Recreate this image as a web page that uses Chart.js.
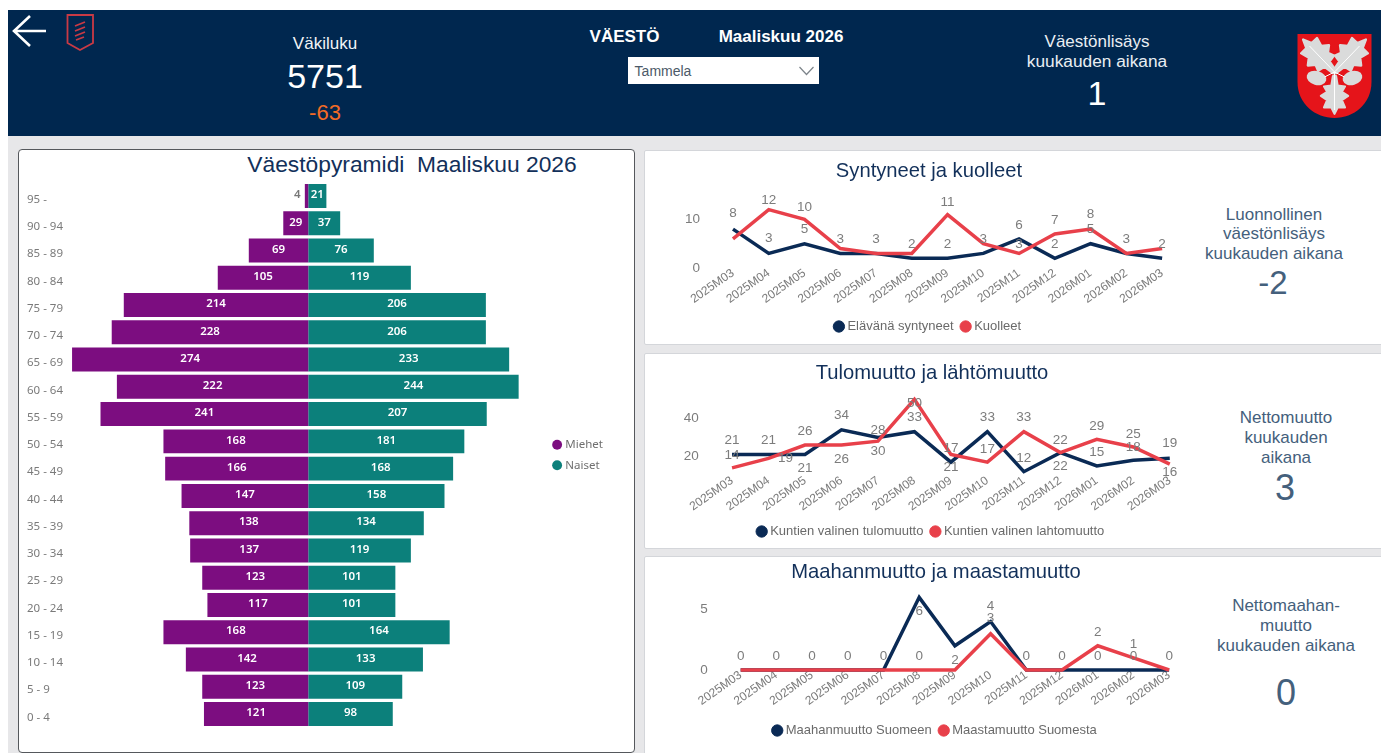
<!DOCTYPE html>
<html lang="fi"><head><meta charset="utf-8"><title>Väestö</title>
<script src="https://cdn.jsdelivr.net/npm/chart.js@4"></script>
<style>
html,body{margin:0;padding:0;background:#fff;overflow:hidden}
#page{position:relative;width:1381px;height:753px;font-family:"Liberation Sans",Arial,sans-serif;overflow:hidden;background:#fff}
#page div,#page canvas,#page svg{position:absolute}
.t{white-space:nowrap;transform:translate(-50%,-50%);line-height:1}
.side{color:#44607c}
.card{background:#fff;box-sizing:border-box;border:1px solid #d4d6da;border-radius:2px}
</style></head><body>
<div id="page">
<div style="left:8px;top:136px;width:1373px;height:617px;background:#e7e7e9"></div>
<div style="left:8px;top:10px;width:1373px;height:126px;background:#00274f"></div>

<svg style="left:8px;top:10px" width="100" height="50" viewBox="8 10 100 50">
<path d="M46 31H14M30 16L14 31L30 46" fill="none" stroke="#fff" stroke-width="2.6"/>
<path d="M67.500 15H93V43L80 50L67.500 43Z" fill="none" stroke="#c93a45" stroke-width="1.8"/>
<path d="M75 26L85 22M75 31L85 27M75 36L85 32M76 40L84 37" fill="none" stroke="#c93a45" stroke-width="1.8"/>
</svg>

<div class="t" style="left:325px;top:43px;font-size:17px;color:#f2f4f6">Väkiluku</div>
<div class="t" style="left:325px;top:76px;font-size:34px;color:#fff">5751</div>
<div class="t" style="left:325px;top:113px;font-size:22px;color:#f26b26">-63</div>
<div class="t" style="left:624.500px;top:36px;font-size:17px;font-weight:bold;color:#fff">VÄESTÖ</div>
<div class="t" style="left:781px;top:36px;font-size:17px;font-weight:bold;color:#fff">Maaliskuu 2026</div>
<div style="left:628px;top:57px;width:191px;height:27px;background:#fff"></div>
<div class="t" style="left:663px;top:71px;font-size:14px;color:#4c5a68">Tammela</div>
<svg style="left:798px;top:65px" width="18" height="12"><path d="M1.500 2L8.500 9.500L15.500 2" fill="none" stroke="#7d848a" stroke-width="1.2"/></svg>
<div class="t" style="left:1097px;top:41px;font-size:17px;color:#e9eef3">Väestönlisäys</div>
<div class="t" style="left:1097px;top:62px;font-size:17.300px;color:#e9eef3">kuukauden aikana</div>
<div class="t" style="left:1097px;top:93px;font-size:34px;color:#fff">1</div>

<svg style="left:1297px;top:34px" width="75" height="84" viewBox="0 0 74 84">
<path d="M0 0H74V48C74 70 56 84 37 84C18 84 0 70 0 48Z" fill="#e5141a"/>
<g fill="#dadbdb" stroke="#dadbdb" stroke-width="2" stroke-linejoin="round">
<g transform="translate(37 38) rotate(-44) scale(1.220)">
<path d="M-1.500 0L-3 -9L-9 -10L-7 -15L-12 -19L-7 -23L-9 -30L-3 -30L0 -37L3 -30L9 -30L7 -23L12 -19L7 -15L9 -10L3 -9L1.500 0Z"/>
</g>
<g transform="translate(37 38) rotate(44) scale(1.220)">
<path d="M-1.500 0L-3 -9L-9 -10L-7 -15L-12 -19L-7 -23L-9 -30L-3 -30L0 -37L3 -30L9 -30L7 -23L12 -19L7 -15L9 -10L3 -9L1.500 0Z"/>
</g>
<g transform="translate(37 42) rotate(180) scale(1.050)">
<path d="M-1.500 0L-3 -9L-10 -10L-7 -15L-13 -19L-7 -23L-10 -30L-3 -30L0 -36L3 -30L10 -30L7 -23L13 -19L7 -15L10 -10L3 -9L1.500 0Z"/>
</g>
<ellipse cx="19" cy="44" rx="9" ry="6" transform="rotate(15 19 44)"/>
<ellipse cx="55" cy="44" rx="9" ry="6" transform="rotate(-15 55 44)"/>
</g>
<path d="M37 38L12 12M37 38L62 12M37 38V76M37 38L27 43M37 38L47 43" stroke="#fff" stroke-width="1" fill="none"/>
</svg>

<div class="card" style="left:18px;top:149px;width:617px;height:604px;border:1px solid #55585c;border-radius:4px"></div>
<div class="card" style="left:644px;top:150px;width:740px;height:195px"></div>
<div class="card" style="left:644px;top:353px;width:740px;height:196px"></div>
<div class="card" style="left:644px;top:556px;width:740px;height:200px"></div>

<div class="t" style="left:412px;top:164px;font-size:22.800px;color:#12305a">Väestöpyramidi&nbsp; Maaliskuu 2026</div>
<canvas id="pyr" style="left:19px;top:150px;width:594px;height:602px"></canvas>
<canvas id="c1" style="left:678px;top:152px;width:502px;height:191px"></canvas>
<canvas id="c2" style="left:676px;top:355px;width:512px;height:193px"></canvas>
<canvas id="c3" style="left:685px;top:558px;width:502px;height:189px"></canvas>

<div class="t side" style="left:1274px;top:214px;font-size:17px">Luonnollinen</div>
<div class="t side" style="left:1274px;top:233px;font-size:17px">väestönlisäys</div>
<div class="t side" style="left:1274px;top:253px;font-size:17px">kuukauden aikana</div>
<div class="t side" style="left:1273px;top:282px;font-size:33px">-2</div>
<div class="t side" style="left:1286px;top:417px;font-size:17px">Nettomuutto</div>
<div class="t side" style="left:1286px;top:437px;font-size:17px">kuukauden</div>
<div class="t side" style="left:1286px;top:457px;font-size:17px">aikana</div>
<div class="t side" style="left:1285px;top:488px;font-size:36px">3</div>
<div class="t side" style="left:1286px;top:605px;font-size:17px">Nettomaahan-</div>
<div class="t side" style="left:1286px;top:625px;font-size:17px">muutto</div>
<div class="t side" style="left:1286px;top:645px;font-size:17px">kuukauden aikana</div>
<div class="t side" style="left:1286px;top:693px;font-size:36px">0</div>
</div>
<script>
const ageGroups = ["95 -","90 - 94","85 - 89","80 - 84","75 - 79","70 - 74","65 - 69","60 - 64","55 - 59","50 - 54","45 - 49","40 - 44","35 - 39","30 - 34","25 - 29","20 - 24","15 - 19","10 - 14","5 - 9","0 - 4"];
const men   = [4,29,69,105,214,228,274,222,241,168,166,147,138,137,123,117,168,142,123,121];
const women = [21,37,76,119,206,206,233,244,207,181,168,158,134,119,101,101,164,133,109,98];

const months = ["2025M03","2025M04","2025M05","2025M06","2025M07","2025M08","2025M09","2025M10","2025M11","2025M12","2026M01","2026M02","2026M03"];
const births = [8,3,5,3,3,2,2,3,6,2,5,3,2];
const deaths = [6,12,10,4,3,3,11,5,3,7,8,3,4];
const moveIn  = [21,21,21,34,30,33,17,33,12,22,15,18,19];
const moveOut = [14,19,26,26,28,50,21,17,33,22,29,25,16];
const immigration = [0,0,0,0,0,6,2,4,0,0,0,0,0];
const emigration  = [0,0,0,0,0,0,0,3,0,0,2,1,0];

const NAVY = "#0a2a55", RED = "#e8404a", GREY = "#7c7c7c";

// where each value label sits relative to its point (null = label hidden, as in the source visual)
const _ = null;
const birthsShift = [-16,-15,-14,-14,-14,-14,-14,-14,-14,-14,-14,-14,-14];
const deathsShift = [_,-9,-12,_,_,_,-12,_,-9,-14,-15,_,_];
const moveInShift = [-14,-14,14,-14,14,-14,-14,-14,-13,-12,-14,-13,-15];
const moveOutShift= [-13,0,-14,14,-11,4,13,-13,-14,14,-13,-13,8];
const moveOutDx   = {1:17};
const immigShift  = [-14,-14,-14,-14,-14,14,14,-15,-14,-14,-14,-14,-14];
const emigShift   = [_,_,_,_,_,-14,_,-15,_,_,-14,-14,_];

const pointValueLabels = {
  id:"pointValueLabels",
  afterDatasetsDraw(chart,args,opts){
    const c = chart.ctx, ys = chart.scales.y;
    c.save();
    c.font = '13.5px "Liberation Sans"'; c.fillStyle = GREY; c.textAlign="center"; c.textBaseline="middle";
    opts.shifts.forEach((shift,di)=>{
      const ds = chart.data.datasets[di], meta = chart.getDatasetMeta(di), dx = (opts.dx&&opts.dx[di])||{};
      shift.forEach((s,i)=>{
        if(s===null) return;
        c.fillText(String(ds.data[i]), meta.data[i].x+(dx[i]||0), ys.getPixelForValue(ds.data[i])+s);
      });
    });
    c.restore();
  }
};
const barValueLabels = {
  id:"barValueLabels",
  afterDatasetsDraw(chart){
    const c = chart.ctx;
    c.save();
    c.font = '600 11.5px "Noto Sans"'; c.textBaseline="middle"; c.textAlign="center";
    chart.data.datasets.forEach((ds,di)=>{
      chart.getDatasetMeta(di).data.forEach((bar,i)=>{
        const v = Math.abs(ds.data[i]);
        const w = Math.abs(bar.x-bar.base);
        if(w<14){ c.fillStyle="#777"; c.fillText(v, bar.base-11, bar.y-1); }
        else { c.fillStyle="#fff"; c.fillText(v, (bar.x+bar.base)/2, bar.y-1); }
      });
    });
    c.restore();
  }
};

new Chart(document.getElementById("pyr"),{
  type:"bar",
  data:{labels:ageGroups,datasets:[
    {label:"Miehet",data:men.map(v=>-v),backgroundColor:"#7c0d80",borderWidth:0,pointStyle:"circle"},
    {label:"Naiset",data:women,backgroundColor:"#0c807b",borderWidth:0,pointStyle:"circle"}
  ]},
  plugins:[barValueLabels],
  options:{
    indexAxis:"y",responsive:false,animation:false,
    datasets:{bar:{barPercentage:0.88,categoryPercentage:1}},
    layout:{padding:{left:8,top:32.4,bottom:24.4,right:0}},
    scales:{
      x:{stacked:true,display:false,min:-275,max:275.3},
      y:{stacked:true,grid:{display:false},border:{display:false},
         afterFit:s=>{s.width=44.2},
         ticks:{crossAlign:"far",padding:0,labelOffset:3.5,autoSkip:false,color:"#7a7a7a",font:{family:"Noto Sans",size:11.5}}}
    },
    plugins:{
      tooltip:{enabled:false},
      legend:{position:"right",labels:{usePointStyle:true,boxWidth:5,boxHeight:7,padding:9,color:"#6f6f6f",font:{family:"Noto Sans",size:11.5}}}
    }
  }
});

function lineChart(id,title,names,a,b,shifts,dx,cfg){
  new Chart(document.getElementById(id),{
    type:"line",
    data:{labels:months,datasets:[
      {label:names[0],data:a,borderColor:NAVY,backgroundColor:NAVY,order:1},
      {label:names[1],data:b,borderColor:RED,backgroundColor:RED,order:0}
    ]},
    plugins:[pointValueLabels],
    options:{
      responsive:false,animation:false,clip:false,
      elements:{line:{borderWidth:3.5,tension:0,borderJoinStyle:"miter"},point:{radius:0,pointStyle:"circle"}},
      scales:{
        x:{offset:true,grid:{display:false},border:{display:false},
           afterFit:s=>{s.height=cfg.xh},
           ticks:{autoSkip:false,minRotation:35,maxRotation:35,padding:-10,color:GREY,font:{family:"Liberation Sans",size:12}}},
        y:{min:cfg.min,max:cfg.max,grid:{display:false},border:{display:false},
           afterFit:s=>{s.width=cfg.yw},
           ticks:{stepSize:cfg.step,autoSkip:false,padding:7,color:GREY,font:{family:"Liberation Sans",size:13.5},
                  callback:v=>cfg.shown.includes(v)?v:""}}
      },
      plugins:{
        tooltip:{enabled:false},
        title:{display:true,text:title,color:"#12305a",font:{family:"Liberation Sans",size:20.2,weight:"normal"},padding:cfg.titlePad},
        legend:{position:"bottom",labels:{usePointStyle:true,boxWidth:4,boxHeight:8,padding:10,color:"#6a6a6a",
                font:{family:"Liberation Sans",size:13},sort:(p,q)=>p.datasetIndex-q.datasetIndex}},
        pointValueLabels:{shifts,dx}
      }
    }
  });
}
lineChart("c1","Syntyneet ja kuolleet",["Elävänä syntyneet","Kuolleet"],births,deaths,[birthsShift,deathsShift],null,
  {yw:37.1,xh:42,min:0,max:16,step:10,shown:[0,10],titlePad:{top:7,bottom:7}});
lineChart("c2","Tulomuutto ja lähtömuutto",["Kuntien valinen tulomuutto","Kuntien valinen lahtomuutto"],moveIn,moveOut,[moveInShift,moveOutShift],[null,moveOutDx],
  {yw:37.8,xh:39.5,min:10,max:55,step:10,shown:[20,40],titlePad:{top:6,bottom:4.5}});
lineChart("c3","Maahanmuutto ja maastamuutto",["Maahanmuutto Suomeen","Maastamuutto Suomesta"],immigration,emigration,[immigShift,emigShift],null,
  {yw:37.8,xh:44,min:0,max:7,step:5,shown:[0,5],titlePad:{top:2,bottom:1}});
</script>
</body></html>
